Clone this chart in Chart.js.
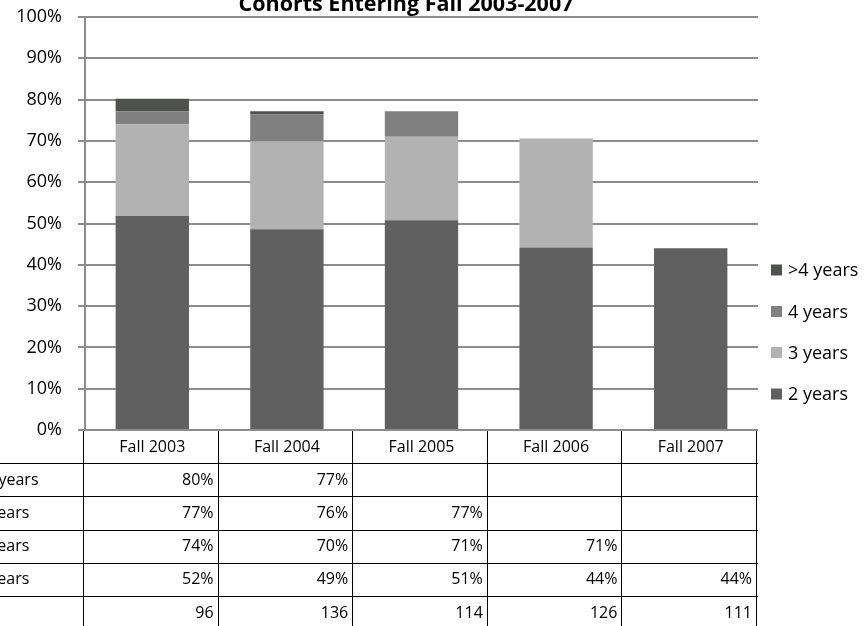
<!DOCTYPE html>
<html>
<head>
<meta charset="utf-8">
<script src="https://cdn.jsdelivr.net/npm/chart.js@4/dist/chart.umd.min.js"></script>
<style>
  html, body { margin: 0; padding: 0; background: #ffffff; }
  #wrap { width: 865px; height: 626px; position: relative; overflow: hidden; }
  canvas { display: block; }
</style>
</head>
<body>
<div id="wrap"><canvas id="c" width="865" height="626"></canvas></div>
<script>
// ---- data ----
const titleText = 'Cohorts Entering Fall 2003-2007';
const categories = ['Fall 2003', 'Fall 2004', 'Fall 2005', 'Fall 2006', 'Fall 2007'];
// cumulative completion rates (%) by time to completion
const rate2yr  = [51.8, 48.6, 50.8, 44.2, 44.0];
const rate3yr  = [74.0, 69.9, 71.0, 70.6, null];
const rate4yr  = [77.1, 76.4, 77.2, null, null];
const rate4pyr = [80.2, 77.2, null, null, null];
const cohortN  = [96, 136, 114, 126, 111];
const seriesLabels = ['2 years', '3 years', '4 years', '>4 years'];
const tableRowLabels = ['>4 years', '4 years', '3 years', '2 years', 'N'];
const yTicks = [0, 10, 20, 30, 40, 50, 60, 70, 80, 90, 100];

// stacked segments = increments between cumulative rates
function diff(hi, lo) { return hi.map((v, i) => (v == null || lo[i] == null) ? null : +(v - lo[i]).toFixed(2)); }
const seg2 = rate2yr.slice();
const seg3 = diff(rate3yr, rate2yr);
const seg4 = diff(rate4yr, rate3yr);
const seg4p = diff(rate4pyr, rate4yr);

const colors = ['#606060', '#b2b2b2', '#7f807f', '#4f514f'];
const FONT = "'Open Sans', 'Liberation Sans', sans-serif";

const overlay = {
  id: 'overlay',
  afterDraw(chart) {
    const ctx = chart.ctx;
    const xs = chart.scales.x;
    const area = chart.chartArea;
    const n = categories.length;
    const half = (xs.getPixelForValue(1) - xs.getPixelForValue(0)) / 2;
    const bounds = [];
    for (let i = 0; i < n; i++) bounds.push(xs.getPixelForValue(i) - half);
    bounds.push(xs.getPixelForValue(n - 1) + half);
    const top = area.bottom;
    const rowH = 33.2;

    ctx.save();
    // table grid
    ctx.strokeStyle = '#000000';
    ctx.lineWidth = 1;
    ctx.beginPath();
    for (let k = 1; k <= 5; k++) {
      const y = Math.round(top + rowH * k) + 0.5;
      ctx.moveTo(0, y); ctx.lineTo(bounds[n], y);
    }
    bounds.forEach((bx) => {
      const x = Math.round(bx) - 1.5;
      ctx.moveTo(x, top + 1); ctx.lineTo(x, chart.height);
    });
    ctx.stroke();

    // table values
    const rows = [rate4pyr, rate4yr, rate3yr, rate2yr];
    ctx.font = '16px ' + FONT;
    ctx.fillStyle = '#000000';
    ctx.textBaseline = 'middle';
    for (let r = 0; r < 5; r++) {
      const yc = top + rowH * (r + 1) + rowH / 2 + 0.5;
      ctx.textAlign = 'left';
      ctx.fillText(tableRowLabels[r], -24, yc);
      ctx.textAlign = 'right';
      for (let i = 0; i < n; i++) {
        let txt = '';
        if (r < 4) {
          const v = rows[r][i];
          if (v != null) txt = Math.round(v) + '%';
        } else {
          txt = String(cohortN[i]);
        }
        if (txt) ctx.fillText(txt, bounds[i + 1] - 6, yc);
      }
    }

    // legend
    ctx.font = '18px ' + FONT;
    ctx.textAlign = 'left';
    ctx.textBaseline = 'middle';
    const legendY = [270, 311.5, 352.5, 394];
    const order = [3, 2, 1, 0];
    order.forEach((di, k) => {
      const ds = chart.data.datasets[di];
      ctx.fillStyle = ds.backgroundColor;
      ctx.fillRect(771, legendY[k] - 5.5, 11, 11);
      ctx.fillStyle = '#000000';
      ctx.fillText(ds.label, 788, legendY[k] + 1);
    });

    // title (clipped at the top as in the reference)
    ctx.font = 'bold 21.5px ' + FONT;
    ctx.textAlign = 'center';
    ctx.textBaseline = 'alphabetic';
    ctx.fillText(titleText, 406, 11);
    ctx.restore();
  }
};

new Chart(document.getElementById('c'), {
  type: 'bar',
  data: {
    labels: categories,
    datasets: [
      { label: seriesLabels[0], data: seg2, backgroundColor: colors[0] },
      { label: seriesLabels[1], data: seg3, backgroundColor: colors[1] },
      { label: seriesLabels[2], data: seg4, backgroundColor: colors[2] },
      { label: seriesLabels[3], data: seg4p, backgroundColor: colors[3] }
    ]
  },
  options: {
    responsive: false,
    animation: false,
    devicePixelRatio: 1,
    layout: { padding: { top: 17, right: 107, bottom: 0, left: 0 } },
    datasets: { bar: { categoryPercentage: 1, barPercentage: 0.545, borderWidth: 0 } },
    plugins: { legend: { display: false }, tooltip: { enabled: false }, title: { display: false } },
    scales: {
      x: {
        stacked: true,
        afterFit: (s) => { s.height = 196; s.paddingLeft = 0; s.paddingRight = 0; },
        grid: { display: false, drawTicks: false },
        border: { display: false },
        ticks: { color: '#000000', padding: 8, font: { family: FONT, size: 16 }, maxRotation: 0 }
      },
      y: {
        stacked: true,
        min: 0, max: 100,
        afterFit: (s) => { s.width = 85; s.paddingTop = 0; s.paddingBottom = 0; },
        afterBuildTicks: (s) => { s.ticks = yTicks.map(v => ({ value: v })); },
        grid: { color: '#8c8c8c', lineWidth: 2, tickLength: 7 },
        border: { display: true, color: '#8c8c8c', width: 2 },
        ticks: { color: '#000000', padding: 16, font: { family: FONT, size: 18 }, callback: (v) => v + '%' }
      }
    }
  },
  plugins: [overlay]
});
</script>
</body>
</html>
